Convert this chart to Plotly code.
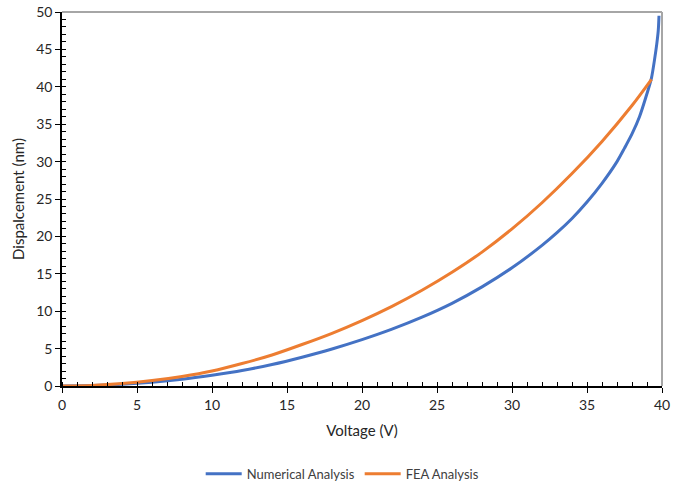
import plotly.graph_objects as go

num_voltage = [0, 2, 4, 6, 8, 10, 12, 14, 16, 18, 20, 22, 24, 26, 28, 30, 32, 33, 34, 35, 36, 37, 37.5, 38, 38.5, 39, 39.3, 39.5, 39.65, 39.75, 39.8]
num_disp = [0, 0.06, 0.23, 0.51, 0.91, 1.45, 2.07, 2.87, 3.85, 4.95, 6.2, 7.6, 9.2, 11.05, 13.25, 15.8, 18.8, 20.5, 22.4, 24.6, 27.1, 30.0, 31.8, 33.7, 36.0, 39.1, 41.2, 43.6, 45.7, 47.5, 49.5]

fea_voltage = [0, 2, 4, 6, 8, 10, 12, 14, 16, 18, 20, 22, 24, 26, 28, 30, 32, 34, 36, 38, 39.3]
fea_disp = [0, 0.08, 0.32, 0.72, 1.27, 2.0, 3.0, 4.15, 5.55, 7.05, 8.75, 10.65, 12.8, 15.2, 17.9, 21.0, 24.5, 28.4, 32.7, 37.5, 41.0]

x_ticks = [0, 5, 10, 15, 20, 25, 30, 35, 40]
y_ticks = [0, 5, 10, 15, 20, 25, 30, 35, 40, 45, 50]

FONT = "Lato, Open Sans, sans-serif"

fig = go.Figure()
fig.add_trace(go.Scatter(x=num_voltage, y=num_disp, mode="lines", name="Numerical Analysis",
                         line=dict(color="#4472C4", width=3, shape="spline", smoothing=0.8)))
fig.add_trace(go.Scatter(x=fea_voltage, y=fea_disp, mode="lines", name="FEA Analysis",
                         line=dict(color="#ED7D31", width=3, shape="spline", smoothing=0.8)))

fig.update_layout(
    width=673, height=484,
    margin=dict(l=62, r=11, t=12, b=98, autoexpand=False),
    paper_bgcolor="white", plot_bgcolor="white",
    font=dict(family=FONT, color="#262626", size=13),
    showlegend=True,
    legend=dict(orientation="h", x=0.467, xanchor="center", y=-0.235, yanchor="middle",
                font=dict(size=13, color="#404040"), itemwidth=36, tracegroupgap=0),
    xaxis=dict(range=[0, 40], tickvals=x_ticks, showgrid=False, zeroline=False, automargin=False,
               showline=True, linecolor="black", linewidth=1.5,
               ticks="outside", ticklen=5, tickcolor="black", tickwidth=1,
               minor=dict(ticks="inside", dtick=1, ticklen=4, tickcolor="black", showgrid=False),
               title=dict(text="Voltage (V)", font=dict(size=15, color="#262626"), standoff=14),
               tickfont=dict(size=14)),
    yaxis=dict(range=[0, 50], tickvals=y_ticks, showgrid=False, zeroline=False, automargin=False,
               showline=True, linecolor="black", linewidth=1.5,
               ticks="outside", ticklen=5, tickcolor="black", tickwidth=1,
               minor=dict(ticks="inside", dtick=1, ticklen=4, tickcolor="black", showgrid=False),
               title=dict(text="Dispalcement (nm)", font=dict(size=15, color="#262626"), standoff=8),
               tickfont=dict(size=14)),
    shapes=[
        dict(type="line", xref="paper", yref="paper", x0=0, x1=1, y0=1, y1=1,
             line=dict(color="#A6A6A6", width=2)),
        dict(type="line", xref="paper", yref="paper", x0=1, x1=1, y0=0, y1=1,
             line=dict(color="#A6A6A6", width=2)),
    ],
)

fig.write_html("out.html")
